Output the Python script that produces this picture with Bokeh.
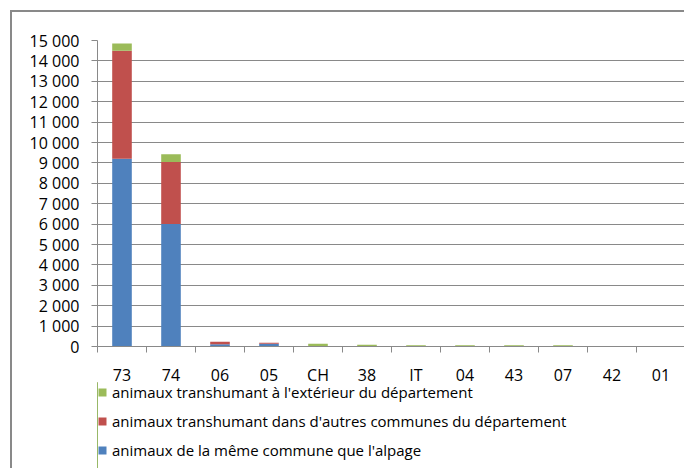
from bokeh.plotting import figure
from bokeh.layouts import column
from bokeh.models import ColumnDataSource, Range1d, FixedTicker, Legend, LegendItem
from bokeh.embed import file_html
from bokeh.resources import INLINE

# ---- data ----
categories = ["73", "74", "06", "05", "CH", "38", "IT", "04", "43", "07", "42", "01"]
meme_commune = [9200, 6000, 110, 130, 0, 0, 0, 0, 0, 0, 0, 0]
autres_communes = [5300, 3050, 120, 50, 0, 0, 0, 0, 0, 0, 0, 0]
exterieur = [350, 380, 0, 0, 130, 85, 60, 60, 60, 60, 30, 0]
series_names = ["animaux de la même commune que l'alpage",
                "animaux transhumant dans d'autres communes du département",
                "animaux transhumant à l'extérieur du département"]
series_colors = ["#4F81BD", "#C0504D", "#9BBB59"]
y_ticks = list(range(0, 15001, 1000))
y_tick_labels = ["0", "1 000", "2 000", "3 000", "4 000", "5 000", "6 000", "7 000",
                 "8 000", "9 000", "10 000", "11 000", "12 000", "13 000", "14 000", "15 000"]

FONT = "Open Sans"
GRAY = "#898989"

xpos = list(range(len(categories)))
source = ColumnDataSource(dict(x=xpos, meme=meme_commune, autres=autres_communes, ext=exterieur))
stack_cols = ["meme", "autres", "ext"]

# ---- main chart ----
p = figure(frame_width=588, frame_height=306, output_backend="svg", toolbar_location=None,
           x_range=Range1d(-0.5, len(categories) - 0.5), y_range=Range1d(0, 15000),
           min_border_left=96, min_border_right=0, min_border_top=40, min_border_bottom=0)
p.outline_line_color = None
p.background_fill_color = "white"
p.border_fill_color = None

p.vbar_stack(stack_cols, x="x", width=0.4, source=source, color=series_colors, line_color=None)

# x axis: labels at category centres, ticks at boundaries
p.xaxis.ticker = FixedTicker(ticks=xpos, minor_ticks=[i - 0.5 for i in range(len(categories) + 1)])
p.xaxis.major_label_overrides = {i: c for i, c in enumerate(categories)}
p.xaxis.major_tick_line_color = None
p.xaxis.major_tick_out = 0
p.xaxis.major_tick_in = 0
p.xaxis.minor_tick_out = 6
p.xaxis.minor_tick_in = 0
p.xaxis.minor_tick_line_color = GRAY
p.xaxis.axis_line_color = GRAY
p.xaxis.major_label_standoff = 11
p.xaxis.major_label_text_font = FONT
p.xaxis.major_label_text_font_size = "16px"
p.xaxis.major_label_text_color = "#000000"

p.yaxis.ticker = FixedTicker(ticks=y_ticks)
p.yaxis.major_label_overrides = {t: l for t, l in zip(y_ticks, y_tick_labels)}
p.yaxis.minor_tick_line_color = None
p.yaxis.major_tick_out = 6
p.yaxis.major_tick_in = 0
p.yaxis.major_tick_line_color = GRAY
p.yaxis.axis_line_color = GRAY
p.yaxis.major_label_standoff = 12
p.yaxis.major_label_text_font = FONT
p.yaxis.major_label_text_font_size = "16px"
p.yaxis.major_label_text_color = "#000000"

p.xgrid.grid_line_color = None
p.ygrid.grid_line_color = GRAY
p.ygrid.grid_line_width = 1
p.ygrid.ticker = FixedTicker(ticks=y_ticks)

# ---- legend strip (same series, plotted outside its visible range; only the legend shows) ----
lg = figure(width=684, height=86, output_backend="svg", toolbar_location=None,
            x_range=Range1d(100, 101), y_range=Range1d(0, 1),
            x_axis_location=None, y_axis_location=None,
            min_border_left=97, min_border_right=0, min_border_top=0, min_border_bottom=0)
lg.outline_line_color = None
lg.grid.visible = False
lg.background_fill_color = None
lg.border_fill_color = None
swatches = lg.vbar_stack(stack_cols, x="x", width=0.4, source=source,
                         color=series_colors, line_color=None)
items = [LegendItem(label=series_names[i], renderers=[swatches[i]]) for i in (2, 1, 0)]
legend = Legend(items=items, location="top_left", padding=0, margin=0, spacing=9,
                glyph_width=10, glyph_height=10, label_height=20, label_standoff=5,
                label_text_font=FONT, label_text_font_size="15px", label_text_color="#000000",
                border_line_color=None, background_fill_alpha=0)
lg.add_layout(legend, "center")
lg.styles = {"margin-top": "-6px"}

layout = column(p, lg, spacing=0)
layout.styles = {
    "background-color": "white",
    "background-image": "linear-gradient(#898989, #898989), linear-gradient(#898989, #898989)",
    "background-size": "2px 100%, 100% 2px",
    "background-position": "10px 10px, 10px 10px",
    "background-repeat": "no-repeat",
}

open("out.html", "w").write(file_html(layout, INLINE))
